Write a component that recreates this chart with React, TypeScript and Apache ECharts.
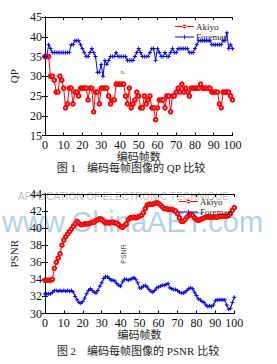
import React, { useEffect, useRef } from "react";
import * as echarts from "echarts";

const frames: number[] = Array.from({ length: 101 }, (_, i) => i);

const qpAkiyo: number[] = [
  35, 35, 35, 30, 30, 29, 26, 26, 30, 29,
  27, 22, 23, 27, 27, 23, 26, 26, 25, 27,
  27, 27, 27, 24, 27, 27, 21, 26, 26, 23,
  27, 27, 27, 27, 25, 23, 24, 24, 28, 28,
  28, 28, 28, 25, 23, 27, 22, 23, 24, 26,
  25, 22, 22, 25, 23, 24, 25, 22, 22, 19,
  22, 24, 24, 24, 22, 25, 25, 21, 25, 25,
  26, 27, 26, 28, 26, 27, 26, 25, 27, 27,
  27, 27, 27, 28, 27, 27, 27, 27, 27, 26,
  26, 26, 26, 23, 22, 26, 26, 26, 26, 25, 24,
];

const qpForeman: number[] = [
  35, 35, 38, 37, 36, 36, 36, 36, 36, 36,
  36, 36, 36, 36, 38, 38, 39, 39, 39, 38,
  37, 36, 35, 35, 36, 37, 36, 35, 31, 31,
  33, 30, 34, 33, 34, 35, 35, 35, 36, 35,
  35, 35, 35, 35, 34, 34, 34, 34, 35, 36,
  37, 36, 35, 35, 35, 35, 36, 37, 37, 34,
  37, 36, 35, 35, 36, 35, 35, 36, 37, 36,
  36, 37, 37, 37, 37, 37, 37, 36, 36, 36,
  37, 38, 39, 39, 39, 39, 39, 39, 39, 38,
  38, 38, 38, 38, 38, 39, 39, 41, 37, 38, 37,
];

const psnrAkiyo: number[] = [
  33.9, 33.9, 33.9, 33.9, 34.0, 35.3, 36.0, 36.5, 37.0, 38.0,
  38.6, 39.0, 39.3, 39.6, 39.9, 40.2, 40.5, 40.8, 40.6, 40.4,
  40.4, 40.5, 40.5, 40.5, 40.6, 40.7, 40.7, 40.9, 41.0, 41.1,
  41.0, 40.8, 40.6, 40.7, 40.6, 40.7, 40.7, 40.6, 40.6, 40.4,
  40.2, 40.1, 40.3, 40.5, 41.0, 41.2, 41.2, 41.3, 41.2, 41.3,
  41.4, 41.5, 41.8, 42.3, 42.7, 42.8, 42.8, 42.8, 42.9, 43.0,
  42.9, 42.7, 42.5, 42.3, 42.3, 42.2, 42.2, 42.2, 42.1, 42.0,
  41.7, 41.2, 40.8, 40.8, 41.0, 41.3, 41.5, 41.6, 41.5, 41.2,
  41.0, 40.9, 41.0, 41.1, 41.2, 41.3, 41.3, 41.3, 41.3, 41.3,
  41.3, 41.3, 41.4, 41.4, 41.4, 41.4, 41.4, 41.5, 41.7, 42.1, 42.4,
];

const psnrForeman: number[] = [
  32.3, 32.3, 32.3, 32.3, 32.5, 32.7, 32.7, 32.6, 32.7, 32.6,
  32.7, 32.6, 32.7, 32.6, 32.7, 32.5, 32.0, 31.6, 31.3, 31.2,
  31.4, 31.8, 32.3, 32.7, 32.9, 32.7, 32.5, 32.4, 32.7, 33.2,
  33.6, 34.1, 34.3, 34.3, 34.1, 33.9, 33.9, 33.8, 33.5, 33.3,
  33.2, 33.7, 34.0, 34.0, 33.9, 34.0, 34.1, 34.2, 34.0, 33.6,
  33.0, 33.0, 33.2, 33.3, 33.1, 32.8, 32.6, 32.5, 32.7, 33.0,
  33.1, 33.2, 33.3, 33.3, 33.4, 33.5, 33.0, 32.9, 32.8, 32.8,
  32.7, 32.5, 32.4, 32.4, 32.5, 32.7, 32.9, 33.0, 32.9, 32.5,
  32.1, 31.7, 31.6, 31.4, 31.3, 31.0, 30.8, 30.9, 30.8, 31.0,
  31.5, 31.6, 31.6, 31.6, 31.6, 31.6, 31.0, 30.5, 30.6, 31.3, 31.9,
];

const seriesNames: string[] = ["Akiyo", "Foreman"];
const xTitle = "编码帧数";
const caption1 = "图 1　编码每帧图像的 QP 比较";
const caption2 = "图 2　编码每帧图像的 PSNR 比较";

const SERIF = "'Liberation Serif', 'Noto Sans CJK SC', serif";
const PLUS = "path://M0,4L8,4M4,0L4,8";
const ICON_CIRCLE =
  "path://M0,3.1L19,3.1L19,3.9L0,3.9Z M7.6,3.5A1.9,1.9 0 1 0 11.4,3.5A1.9,1.9 0 1 0 7.6,3.5Z";
const ICON_PLUS = "path://M0,3.1L19,3.1L19,3.9L0,3.9Z M9.1,1.2L9.9,1.2L9.9,5.8L9.1,5.8Z M0,0L0.01,0Z M0,7L0.01,7Z";

function pairs(vals: number[]) {
  return frames.map((f, i) => [f, vals[i]]);
}

function xAx(grid: number, pos: "bottom" | "top", showLabel: boolean, name?: string, gap?: number) {
  return {
    type: "value",
    gridIndex: grid,
    position: pos,
    min: 0,
    max: 100,
    interval: 10,
    axisLine: { show: true, lineStyle: { color: "#000", width: 1 } },
    axisTick: { show: true, inside: true, length: 3, lineStyle: { color: "#000" } },
    axisLabel: { show: showLabel, margin: 3, fontSize: 12, fontFamily: SERIF, color: "#111" },
    splitLine: { show: false },
    name: name,
    nameLocation: "middle",
    nameGap: gap,
    nameTextStyle: { fontSize: 11, fontFamily: SERIF, color: "#222" },
  };
}

function yAx(grid: number, pos: "left" | "right", min: number, max: number, interval: number, showLabel: boolean, name?: string, gap?: number) {
  return {
    type: "value",
    gridIndex: grid,
    position: pos,
    min,
    max,
    interval,
    axisLine: { show: true, lineStyle: { color: "#000", width: 1 } },
    axisTick: { show: true, inside: true, length: 3, lineStyle: { color: "#000" } },
    axisLabel: { show: showLabel, margin: 3, fontSize: 12, fontFamily: SERIF, color: "#111" },
    splitLine: { show: false },
    name: name,
    nameLocation: "middle",
    nameGap: gap,
    nameTextStyle: { fontSize: 11, fontFamily: SERIF, color: "#222" },
  };
}

function lineSeries(name: string, vals: number[], axis: number, color: string, plus: boolean) {
  return {
    type: "line",
    name,
    xAxisIndex: axis,
    yAxisIndex: axis,
    data: pairs(vals),
    symbol: plus ? PLUS : "emptyCircle",
    symbolSize: plus ? 4 : 3.5,
    showSymbol: true,
    lineStyle: { color, width: 1 },
    itemStyle: plus
      ? { color, borderColor: color, borderWidth: 1 }
      : { color, borderColor: color, borderWidth: 0.8 },
    z: 3,
  };
}

function legendAt(left: number, top: number) {
  return {
    data: [
      { name: seriesNames[0], icon: ICON_CIRCLE, itemStyle: { color: "#ff0000", borderWidth: 0 } },
      { name: seriesNames[1], icon: ICON_PLUS, itemStyle: { color: "#0000ff", borderWidth: 0 } },
    ],
    orient: "vertical",
    left,
    top,
    itemWidth: 19,
    itemHeight: 7,
    itemGap: 1.5,
    padding: 0,
    itemStyle: { borderWidth: 0 },
    lineStyle: { width: 0 },
    textStyle: { fontSize: 9, fontFamily: SERIF, color: "#222", padding: [0, 0, 0, -3] },
  };
}

export default function App() {
  const ref = useRef<HTMLDivElement>(null);
  useEffect(() => {
    if (!ref.current) return;
    const chart = echarts.init(ref.current, undefined, { renderer: "svg" });
    chart.setOption({
      animation: false,
      backgroundColor: "#fff",
      grid: [
        { left: 37, top: 17, width: 195.5, height: 118.5, show: false },
        { left: 40.7, top: 194, width: 193.6, height: 119.5, show: false },
      ],
      xAxis: [
        xAx(0, "bottom", true, xTitle, 12),
        xAx(0, "top", false),
        xAx(1, "bottom", true, xTitle, 14),
        xAx(1, "top", false),
      ],
      yAxis: [
        yAx(0, "left", 15, 45, 5, true, "QP", 18),
        yAx(0, "right", 15, 45, 5, false),
        yAx(1, "left", 30, 44, 2, true, "PSNR", 15),
        yAx(1, "right", 30, 44, 2, false),
      ],
      legend: [legendAt(175, 22), legendAt(179, 197)],
      graphic: [
        {
          type: "text",
          left: 2,
          top: 207,
          z: 0,
          style: { text: "www.ChinaAET.com", fontSize: 29, fontFamily: "'Liberation Sans', sans-serif", fill: "rgba(140,190,218,0.7)" },
        },
        {
          type: "text",
          left: 18,
          top: 191,
          z: 0,
          style: { text: "APPLICATION OF ELECTRONIC TECHNIQUE", fontSize: 10, fontFamily: "'Liberation Sans', sans-serif", fill: "rgba(160,160,160,0.7)" },
        },
        {
          type: "text",
          x: 131,
          y: 168,
          z: 5,
          style: { text: caption1, fontSize: 11, fontFamily: SERIF, fill: "#222", align: "center", verticalAlign: "middle" },
        },
        {
          type: "text",
          x: 138,
          y: 351,
          z: 5,
          style: { text: caption2, fontSize: 11, fontFamily: SERIF, fill: "#222", align: "center", verticalAlign: "middle" },
        },
        {
          type: "text",
          x: 123,
          y: 72,
          z: 5,
          style: { text: "n.", fontSize: 6, fontFamily: SERIF, fill: "#555", align: "center", verticalAlign: "middle" },
        },
        {
          type: "text",
          x: 123,
          y: 254,
          rotation: Math.PI / 2,
          z: 5,
          style: { text: "PSNR", fontSize: 7, fontFamily: "'Liberation Sans', sans-serif", fill: "#555", align: "center", verticalAlign: "middle" },
        },
      ],
      series: [
        lineSeries(seriesNames[0], qpAkiyo, 0, "#ff0000", false),
        lineSeries(seriesNames[1], qpForeman, 0, "#0000ff", true),
        lineSeries(seriesNames[0], psnrAkiyo, 2, "#ff0000", false),
        lineSeries(seriesNames[1], psnrForeman, 2, "#0000ff", true),
      ],
    });
    return () => chart.dispose();
  }, []);
  return (
    <div
      ref={ref}
      style={{ position: "fixed", left: 0, top: 0, width: 277, height: 364, background: "#fff" }}
    />
  );
}
